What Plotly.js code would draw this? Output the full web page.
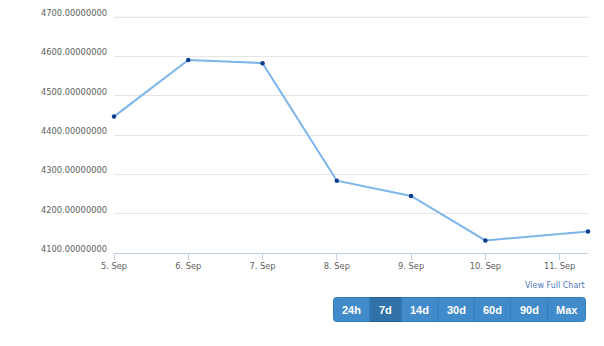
<!DOCTYPE html>
<html>
<head>
<meta charset="utf-8">
<script src="https://cdn.plot.ly/plotly-3.0.1.min.js"></script>
<style>html,body{margin:0;padding:0;background:#fff;}#chart{width:604px;height:346px;}</style>
</head>
<body>
<div id="chart"></div>
<script>
// ---- data ----
const dates = ['2015-09-05 00:00','2015-09-06 00:00','2015-09-07 00:00','2015-09-08 00:00','2015-09-09 00:00','2015-09-10 00:00','2015-09-11 09:10'];
const values = [4447, 4591, 4583, 4284, 4245, 4132, 4155];
const xTickVals = ['2015-09-05','2015-09-06','2015-09-07','2015-09-08','2015-09-09','2015-09-10','2015-09-11'];
const xTickText = ['5. Sep','6. Sep','7. Sep','8. Sep','9. Sep','10. Sep','11. Sep'];
const yTickVals = [4100, 4200, 4300, 4400, 4500, 4600, 4700];
const yTickText = ['4100.00000000','4200.00000000','4300.00000000','4400.00000000','4500.00000000','4600.00000000','4700.00000000'];
const rangeButtons = ['24h','7d','14d','30d','60d','90d','Max'];
const activeButton = '7d';
const linkText = 'View Full Chart';

// ---- layout geometry ----
const W = 604, H = 346;
const M = {l: 114, r: 16, t: 14, b: 93};
const PW = W - M.l - M.r, PH = H - M.t - M.b;
const px = x => (x - M.l) / PW;
const py = y => (H - M.b - y) / PH;

const btnEdges = [333.5, 369.5, 401.5, 438, 474, 510.5, 547.5, 585.5];
const btnTop = 297.5, btnBot = 321.5;

const shapes = [];
const annotations = [];

// explicit top gridline (Plotly drops gridlines at the range edge)
shapes.push({type:'line', xref:'paper', yref:'y', x0:0, x1:1, y0: yTickVals[yTickVals.length-1], y1: yTickVals[yTickVals.length-1], line:{color:'#e6e6e6', width:1}, layer:'below'});

// outer rounded group
(function(){
  const x0 = px(btnEdges[0]), x1 = px(btnEdges[btnEdges.length-1]);
  const y0 = py(btnBot), y1 = py(btnTop);
  const rx = 3 / PW, ry = 3 / PH;
  const path = `M ${x0+rx},${y1} L ${x1-rx},${y1} Q ${x1},${y1} ${x1},${y1-ry} L ${x1},${y0+ry} Q ${x1},${y0} ${x1-rx},${y0} L ${x0+rx},${y0} Q ${x0},${y0} ${x0},${y0+ry} L ${x0},${y1-ry} Q ${x0},${y1} ${x0+rx},${y1} Z`;
  shapes.push({type:'path', xref:'paper', yref:'paper', path: path, fillcolor:'#428bca', line:{color:'#357ebd', width:1}, layer:'above'});
})();
rangeButtons.forEach((b, i) => {
  const xa = btnEdges[i], xb = btnEdges[i+1];
  if (b === activeButton) {
    shapes.push({type:'rect', xref:'paper', yref:'paper', x0: px(xa), x1: px(xb), y0: py(btnBot), y1: py(btnTop), fillcolor:'#3071a9', line:{color:'#285e8e', width:1}, layer:'above'});
  }
  if (i > 0) {
    shapes.push({type:'line', xref:'paper', yref:'paper', x0: px(xa), x1: px(xa), y0: py(btnBot), y1: py(btnTop), line:{color:'#357ebd', width:1}, layer:'above'});
  }
  annotations.push({xref:'paper', yref:'paper', x: px((xa+xb)/2), y: py((btnTop+btnBot)/2), text: b, showarrow:false, xanchor:'center', yanchor:'middle', font:{family:'Liberation Sans, Arial, sans-serif', size:11, color:'#ffffff', weight:'bold'}});
});
annotations.push({xref:'paper', yref:'paper', x: px(586.5), y: py(285.5), text: linkText, showarrow:false, xanchor:'right', yanchor:'middle', font:{family:'DejaVu Sans, sans-serif', size:8, color:'#4f76b8'}});

const trace = {
  type:'scatter', mode:'lines+markers', x: dates, y: values,
  line:{color:'#7cb5ec', width:2},
  marker:{color:'#0b3c8c', size:4.5},
  cliponaxis:false,
  hoverinfo:'x+y'
};

const tickFont = {family:'DejaVu Sans, sans-serif', size:8.3, color:'#606060'};
const layout = {
  width: W, height: H,
  margin: M,
  paper_bgcolor:'#ffffff', plot_bgcolor:'#ffffff',
  showlegend:false,
  xaxis:{
    type:'date', range:[dates[0], dates[dates.length-1]],
    tickvals: xTickVals, ticktext: xTickText,
    showgrid:false, zeroline:false,
    showline:true, linecolor:'#c0d0e0', linewidth:1,
    ticks:'outside', ticklen:6, tickcolor:'#c0d0e0', tickwidth:1,
    ticklabelstandoff:-1,
    tickfont: tickFont, fixedrange:true
  },
  yaxis:{
    range:[4100, 4708],
    tickvals: yTickVals, ticktext: yTickText,
    showgrid:true, gridcolor:'#e6e6e6', gridwidth:1,
    zeroline:false, showline:false, ticks:'',
    ticklabelstandoff:6, ticklabelshift:-4,
    tickfont: tickFont, fixedrange:true
  },
  shapes: shapes,
  annotations: annotations
};

Plotly.newPlot('chart', [trace], layout, {displayModeBar:false, staticPlot:true});
</script>
</body>
</html>
